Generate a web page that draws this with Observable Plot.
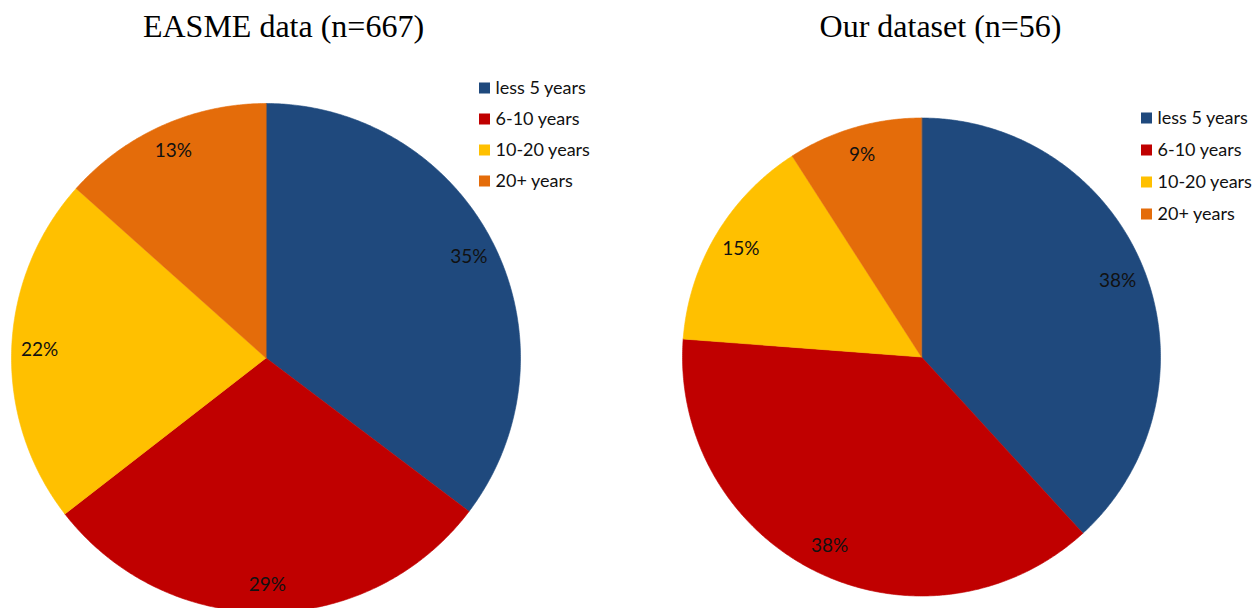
<!DOCTYPE html>
<html>
<head>
<meta charset="utf-8">
<script src="https://cdn.jsdelivr.net/npm/d3@7"></script>
<script src="https://cdn.jsdelivr.net/npm/@observablehq/plot@0.6"></script>
<style>
  html, body { margin: 0; padding: 0; background: #fff; }
  #chart svg { display: block; }
</style>
</head>
<body>
<div id="chart"></div>
<script>
// ---- data ----
const categories = ["less 5 years", "6-10 years", "10-20 years", "20+ years"];
const colors = ["#1F497D", "#C00000", "#FFC000", "#E46C0A"];
const titles = ["EASME data (n=667)", "Our dataset (n=56)"];
const easmeValues = [35.3, 29.2, 22.1, 13.4];
const easmeLabels = ["35%", "29%", "22%", "13%"];
const oursValues = [38.2, 38.0, 14.7, 9.1];
const oursLabels = ["38%", "38%", "15%", "9%"];

// ---- layout (pixels) ----
const W = 1256, H = 608;
const pies = [
  {title: titles[0], values: easmeValues, labels: easmeLabels, cx: 265.5, cy: 357.5, r: 254.5, lf: 0.89, titleX: 283, legX: 479, legY: 88, legStep: 31},
  {title: titles[1], values: oursValues, labels: oursLabels, cx: 921, cy: 356.5, r: 239, lf: 0.88, titleX: 940, legX: 1141, legY: 118, legStep: 32}
];

const slicePts = [], labelPts = [], legendRects = [], legendText = [], titleText = [];
pies.forEach((p, pi) => {
  const arcs = d3.pie().sort(null).value(d => d)(p.values);
  arcs.forEach((a, i) => {
    const key = pi + "-" + i;
    slicePts.push({key, cat: categories[i], x: p.cx, y: p.cy});
    const n = Math.max(2, Math.ceil((a.endAngle - a.startAngle) / (Math.PI / 360)));
    for (let k = 0; k <= n; k++) {
      const t = a.startAngle + (a.endAngle - a.startAngle) * k / n;
      slicePts.push({key, cat: categories[i], x: p.cx + p.r * Math.sin(t), y: p.cy - p.r * Math.cos(t)});
    }
    const m = (a.startAngle + a.endAngle) / 2;
    const lr = p.r * p.lf;
    labelPts.push({x: p.cx + lr * Math.sin(m), y: p.cy - lr * Math.cos(m), text: p.labels[i]});
  });
  categories.forEach((c, i) => {
    const yc = p.legY + i * p.legStep;
    legendRects.push({cat: c, x1: p.legX, x2: p.legX + 11, y1: yc - 5.5, y2: yc + 5.5});
    legendText.push({x: p.legX + 16, y: yc, text: c});
  });
  titleText.push({x: p.titleX, y: 26.5, text: p.title});
});

const chart = Plot.plot({
  width: W,
  height: H,
  margin: 0,
  x: {type: "identity", axis: null},
  y: {type: "identity", axis: null},
  color: {domain: categories, range: colors},
  style: {background: "#fff"},
  marks: [
    Plot.line(slicePts, {x: "x", y: "y", z: "key", fill: "cat", stroke: "cat", strokeWidth: 0.6, curve: "linear-closed"}),
    Plot.text(labelPts, {x: "x", y: "y", text: "text", fontFamily: "Lato", fontSize: 19, fill: "#111", textAnchor: "middle", lineAnchor: "middle"}),
    Plot.rect(legendRects, {x1: "x1", x2: "x2", y1: "y1", y2: "y2", fill: "cat"}),
    Plot.text(legendText, {x: "x", y: "y", text: "text", fontFamily: "Lato", fontSize: 18, fill: "#111", textAnchor: "start", lineAnchor: "middle"}),
    Plot.text(titleText, {x: "x", y: "y", text: "text", fontFamily: "Liberation Serif", fontSize: 32, fill: "#000", textAnchor: "middle", lineAnchor: "middle"})
  ]
});
document.getElementById("chart").appendChild(chart);
</script>
</body>
</html>
